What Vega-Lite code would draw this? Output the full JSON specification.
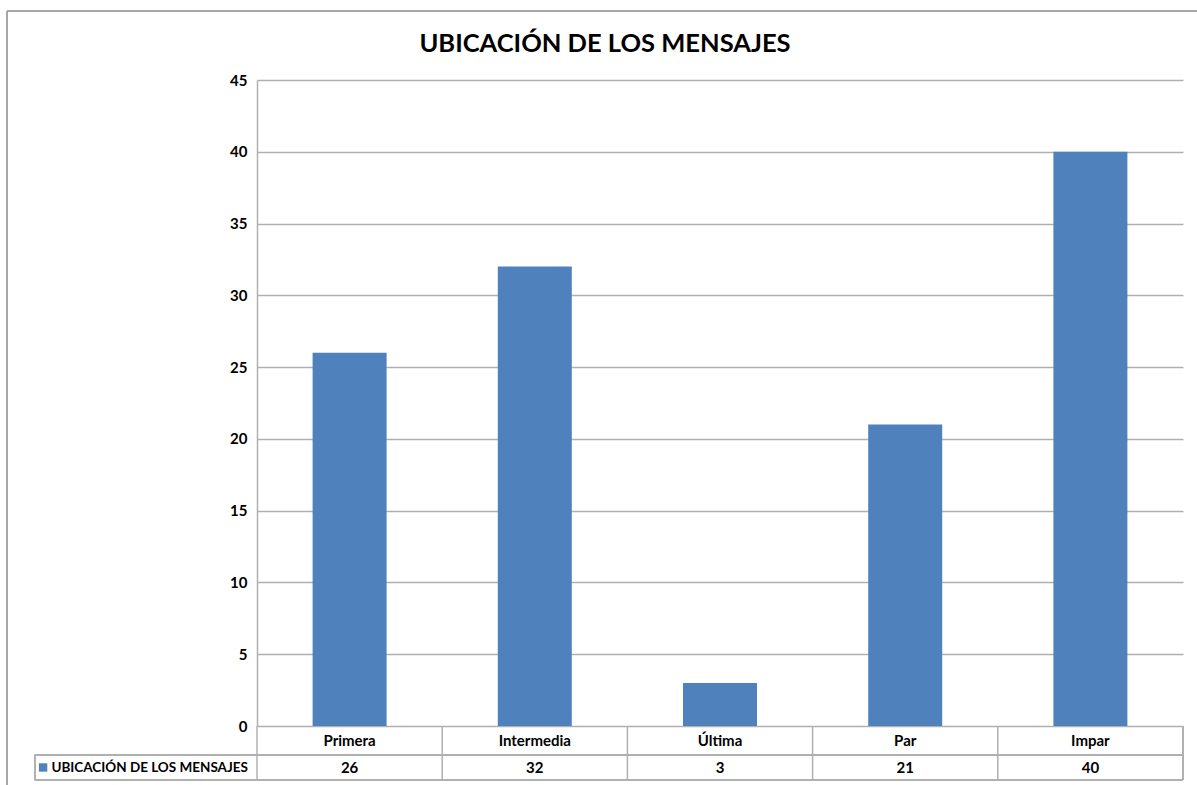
{
  "$schema": "https://vega.github.io/schema/vega-lite/v6.json",
  "width": 926,
  "height": 646,
  "autosize": {"type": "none"},
  "padding": {"left": 257, "top": 80, "right": 14, "bottom": 59},
  "background": "white",
  "config": {
    "view": {"stroke": null}
  },
  "title": {
    "text": "UBICACIÓN DE LOS MENSAJES",
    "font": "Lato",
    "fontSize": 25.5,
    "fontWeight": "bold",
    "color": "#000000",
    "anchor": "middle",
    "dx": -115,
    "offset": -72,
    "baseline": "bottom"
  },
  "data": {
    "values": [
      {"categoria": "Primera", "orden": 1, "valor": 26, "serie": "UBICACIÓN DE LOS MENSAJES"},
      {"categoria": "Intermedia", "orden": 2, "valor": 32, "serie": "UBICACIÓN DE LOS MENSAJES"},
      {"categoria": "Última", "orden": 3, "valor": 3, "serie": "UBICACIÓN DE LOS MENSAJES"},
      {"categoria": "Par", "orden": 4, "valor": 21, "serie": "UBICACIÓN DE LOS MENSAJES"},
      {"categoria": "Impar", "orden": 5, "valor": 40, "serie": "UBICACIÓN DE LOS MENSAJES"}
    ]
  },
  "layer": [
    {
      "mark": {"type": "bar", "color": "#4f81bd", "width": 74},
      "encoding": {
        "x": {
          "field": "orden",
          "type": "quantitative",
          "scale": {"domain": [0.5, 5.5], "nice": false, "zero": false, "padding": 0},
          "axis": null
        },
        "y": {
          "field": "valor",
          "type": "quantitative",
          "scale": {"domain": [0, 45], "nice": false, "padding": 0},
          "axis": {
            "title": null,
            "values": [0, 5, 10, 15, 20, 25, 30, 35, 40, 45],
            "grid": true,
            "gridColor": "#b0b0b0",
            "gridWidth": 1.5,
            "domain": true,
            "domainColor": "#b0b0b0",
            "domainWidth": 1.5,
            "ticks": false,
            "labelPadding": 10,
            "labelFont": "Lato",
            "labelFontSize": 15,
            "labelFontWeight": "bold",
            "labelColor": "#000000"
          }
        }
      }
    },
    {
      "transform": [{"calculate": "datum.orden - 0.5", "as": "borde"}],
      "mark": {"type": "rule", "color": "#b0b0b0", "strokeWidth": 1.5, "clip": false},
      "encoding": {
        "x": {"field": "borde", "type": "quantitative"},
        "y": {"datum": 0},
        "y2": {"datum": -3.76}
      }
    },
    {
      "mark": {"type": "rule", "color": "#b0b0b0", "strokeWidth": 1.5, "clip": false},
      "encoding": {
        "x": {"datum": 5.5},
        "y": {"datum": 0},
        "y2": {"datum": -3.76}
      }
    },
    {
      "mark": {"type": "rule", "color": "#b0b0b0", "strokeWidth": 1.5, "clip": false},
      "encoding": {
        "x": {"datum": -0.7},
        "x2": {"datum": 5.5},
        "y": {"datum": -2.02}
      }
    },
    {
      "mark": {"type": "rule", "color": "#b0b0b0", "strokeWidth": 1.5, "clip": false},
      "encoding": {
        "x": {"datum": -0.7},
        "x2": {"datum": 5.5},
        "y": {"datum": -3.76}
      }
    },
    {
      "mark": {"type": "rule", "color": "#b0b0b0", "strokeWidth": 1.5, "clip": false},
      "encoding": {
        "x": {"datum": -0.7},
        "y": {"datum": -2.02},
        "y2": {"datum": -3.76}
      }
    },
    {
      "mark": {"type": "rule", "color": "#a6a6a6", "strokeWidth": 1.5, "clip": false},
      "encoding": {
        "x": {"datum": -0.85},
        "x2": {"datum": 6.5},
        "y": {"datum": 49.81}
      }
    },
    {
      "mark": {"type": "rule", "color": "#a6a6a6", "strokeWidth": 1.5, "clip": false},
      "encoding": {
        "x": {"datum": -0.85},
        "y": {"datum": 49.81},
        "y2": {"datum": -6}
      }
    },
    {
      "mark": {"type": "text", "font": "Lato", "fontSize": 15, "fontWeight": "bold", "color": "#000000", "baseline": "middle", "clip": false},
      "encoding": {
        "x": {"field": "orden", "type": "quantitative"},
        "y": {"datum": -1.05},
        "text": {"field": "categoria", "type": "nominal"}
      }
    },
    {
      "mark": {"type": "text", "font": "Lato", "fontSize": 15, "fontWeight": "bold", "color": "#000000", "baseline": "middle", "clip": false},
      "encoding": {
        "x": {"field": "orden", "type": "quantitative"},
        "y": {"datum": -2.93},
        "text": {"field": "valor", "type": "quantitative"}
      }
    },
    {
      "transform": [{"filter": "datum.orden == 1"}],
      "mark": {"type": "square", "color": "#4f81bd", "opacity": 1, "filled": true, "size": 70, "clip": false},
      "encoding": {
        "x": {"datum": -0.655},
        "y": {"datum": -2.89}
      }
    },
    {
      "transform": [{"filter": "datum.orden == 1"}],
      "mark": {"type": "text", "font": "Lato", "fontSize": 13.5, "fontWeight": "bold", "color": "#000000", "baseline": "middle", "align": "left", "clip": false},
      "encoding": {
        "x": {"datum": -0.61},
        "y": {"datum": -2.93},
        "text": {"field": "serie", "type": "nominal"}
      }
    }
  ]
}
